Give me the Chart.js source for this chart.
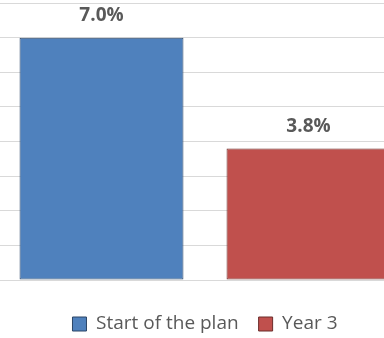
<!DOCTYPE html>
<html>
<head>
<meta charset="utf-8">
<script src="https://cdn.jsdelivr.net/npm/chart.js@4/dist/chart.umd.min.js"></script>
<style>
  html, body { margin: 0; padding: 0; background: #fff; overflow: hidden; width: 384px; height: 338px; }
  #wrap { position: absolute; left: -2px; top: 0; width: 414px; height: 338px; }
</style>
</head>
<body>
<div id="wrap"><canvas id="c" width="414" height="338"></canvas></div>
<script>
const categories = [""];
const seriesNames = ["Start of the plan", "Year 3"];
const startValues = [7.0];
const year3Values = [3.8];
const yTicks = [0, 1, 2, 3, 4, 5, 6, 7, 8];

const labelPlugin = {
  id: 'valueLabels',
  afterDatasetsDraw(chart) {
    const ctx = chart.ctx;
    ctx.save();
    ctx.font = 'bold 19px "Open Sans"';
    ctx.fillStyle = '#595959';
    ctx.textAlign = 'center';
    ctx.textBaseline = 'middle';
    chart.data.datasets.forEach((ds, i) => {
      chart.getDatasetMeta(i).data.forEach((el, j) => {
        ctx.fillText(ds.data[j].toFixed(1) + '%', el.x, el.y - 22);
      });
    });
    ctx.restore();
  }
};

new Chart(document.getElementById('c'), {
  type: 'bar',
  data: {
    labels: categories,
    datasets: [
      { label: seriesNames[0], data: startValues, backgroundColor: '#4F81BD', borderColor: '#2b4566', borderWidth: 1, borderSkipped: false },
      { label: seriesNames[1], data: year3Values, backgroundColor: '#C0504D', borderColor: '#6b2c2a', borderWidth: 1, borderSkipped: false }
    ]
  },
  options: {
    responsive: false,
    animation: false,
    events: [],
    layout: { padding: { top: 3, bottom: -5.5, left: 0, right: 0 } },
    datasets: { bar: { categoryPercentage: 1.0, barPercentage: 0.792 } },
    scales: {
      x: {
        display: true,
        ticks: { display: false },
        grid: { display: false, drawTicks: false },
        border: { display: false },
        afterFit(axis) { axis.height = 14.5; }
      },
      y: {
        min: 0, max: 8,
        afterBuildTicks(axis) { axis.ticks = yTicks.map(v => ({ value: v })); },
        ticks: { display: false },
        grid: { color: '#d9d9d9', lineWidth: 1, drawTicks: false },
        border: { display: false },
        afterFit(axis) { axis.width = 0; }
      }
    },
    plugins: {
      legend: {
        position: 'bottom',
        labels: {
          font: { family: 'Open Sans', size: 19 },
          color: '#595959',
          boxWidth: 14,
          boxHeight: 14,
          padding: 20
        }
      },
      tooltip: { enabled: false },
      title: { display: false }
    }
  },
  plugins: [labelPlugin]
});
</script>
</body>
</html>
